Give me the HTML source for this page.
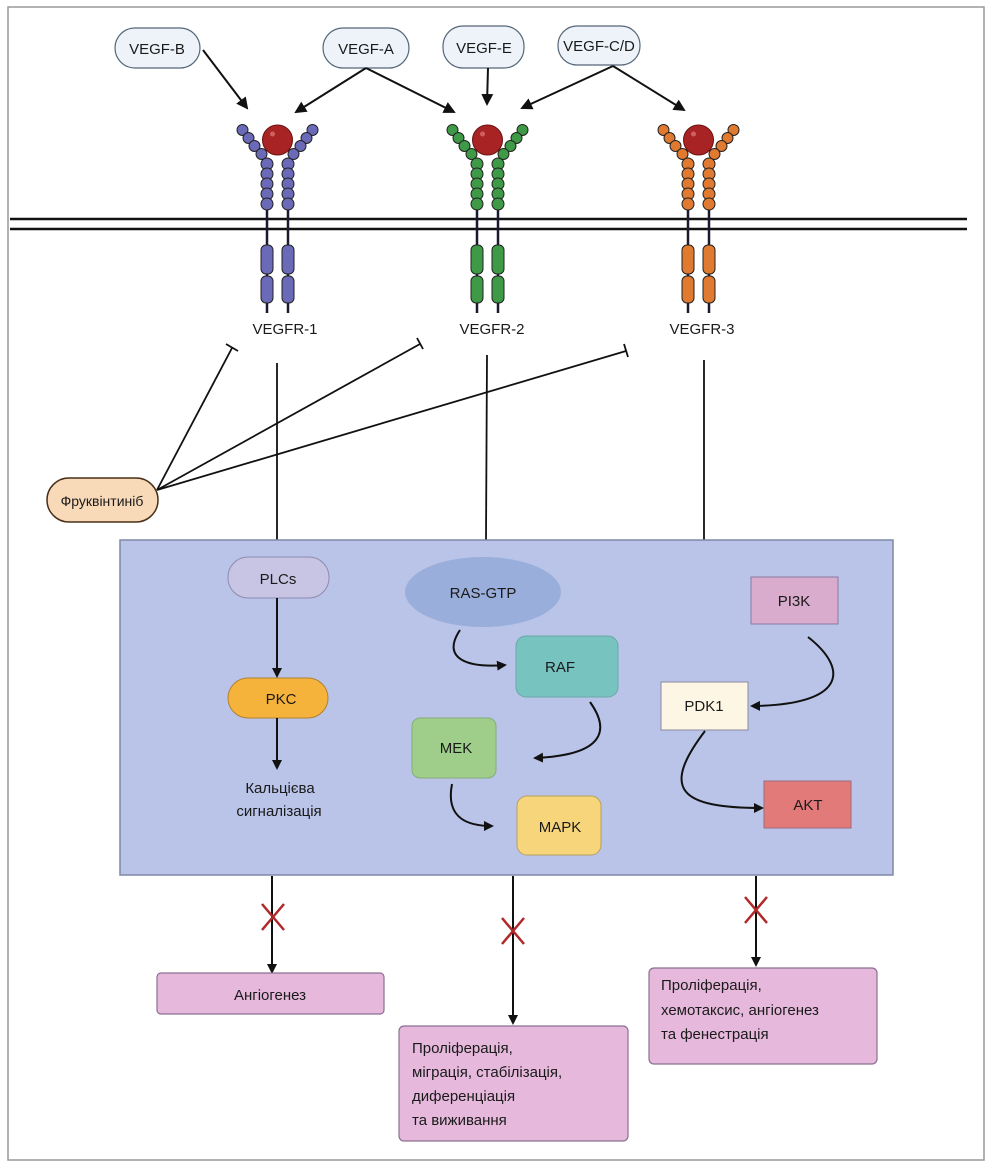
<!DOCTYPE html>
<html><head><meta charset="utf-8"><style>
html,body{margin:0;padding:0;background:#fff}
svg{display:block}
text{font-family:"Liberation Sans","DejaVu Sans",sans-serif;fill:#1a1a1a}
</style></head><body>
<svg width="989" height="1168" viewBox="0 0 989 1168" xmlns="http://www.w3.org/2000/svg">
<defs>
<marker id="ah" markerWidth="10" markerHeight="10" refX="8" refY="5" orient="auto" markerUnits="userSpaceOnUse">
<path d="M0,0 L10,5 L0,10 Z" fill="#111"/></marker>
<marker id="ahs" markerWidth="12" markerHeight="12" refX="10" refY="6" orient="auto" markerUnits="userSpaceOnUse">
<path d="M0,0 L12,6 L0,12 Z" fill="#111"/></marker>
<g id="rec" stroke="#222" stroke-width="1">
<line x1="-10.5" y1="160" x2="-10.5" y2="313" stroke="#1a1a2e" stroke-width="2.5"/>
<line x1="10.5" y1="160" x2="10.5" y2="313" stroke="#1a1a2e" stroke-width="2.5"/>
<circle cx="-35" cy="130" r="5.5"/><circle cx="-29" cy="138" r="5.5"/><circle cx="-23" cy="146" r="5.5"/><circle cx="-16" cy="154" r="5.5"/>
<circle cx="35" cy="130" r="5.5"/><circle cx="29" cy="138" r="5.5"/><circle cx="23" cy="146" r="5.5"/><circle cx="16" cy="154" r="5.5"/>
<circle cx="-10.5" cy="164" r="6"/><circle cx="-10.5" cy="174" r="6"/><circle cx="-10.5" cy="184" r="6"/><circle cx="-10.5" cy="194" r="6"/><circle cx="-10.5" cy="204" r="6"/>
<circle cx="10.5" cy="164" r="6"/><circle cx="10.5" cy="174" r="6"/><circle cx="10.5" cy="184" r="6"/><circle cx="10.5" cy="194" r="6"/><circle cx="10.5" cy="204" r="6"/>
<rect x="-16.5" y="245" width="12" height="29" rx="5"/><rect x="4.5" y="245" width="12" height="29" rx="5"/>
<rect x="-16.5" y="276" width="12" height="27" rx="5"/><rect x="4.5" y="276" width="12" height="27" rx="5"/>
<circle cx="0" cy="140" r="15" fill="#a82424" stroke="#6a1010"/>
<circle cx="-5" cy="134" r="2.5" fill="#d06060" stroke="none"/>
</g>
</defs>
<rect x="8" y="7" width="976" height="1153" fill="#fff" stroke="#999" stroke-width="1.5"/>
<!-- membrane -->
<line x1="10" y1="219" x2="967" y2="219" stroke="#111" stroke-width="2.5"/>
<line x1="10" y1="229" x2="967" y2="229" stroke="#111" stroke-width="2.5"/>
<use href="#rec" x="277.5" fill="#6a6ab8"/>
<use href="#rec" x="487.5" fill="#3f9a48"/>
<use href="#rec" x="698.5" fill="#e07a30"/>
<text x="285" y="334" font-size="15" text-anchor="middle">VEGFR-1</text>
<text x="492" y="334" font-size="15" text-anchor="middle">VEGFR-2</text>
<text x="702" y="334" font-size="15" text-anchor="middle">VEGFR-3</text>
<!-- ligands -->
<g fill="#eef3fa" stroke="#556677" stroke-width="1.2">
<rect x="115" y="28" width="85" height="40" rx="20"/>
<rect x="323" y="28" width="86" height="40" rx="20"/>
<rect x="443" y="26" width="81" height="42" rx="20"/>
<rect x="558" y="26" width="82" height="39" rx="19"/>
</g>
<text x="157" y="54" font-size="15" text-anchor="middle">VEGF-B</text>
<text x="366" y="54" font-size="15" text-anchor="middle">VEGF-A</text>
<text x="484" y="53" font-size="15" text-anchor="middle">VEGF-E</text>
<text x="599" y="51" font-size="15" text-anchor="middle">VEGF-C/D</text>
<g stroke="#111" stroke-width="2" fill="none">
<line x1="203" y1="50" x2="247" y2="108" marker-end="url(#ahs)"/>
<line x1="366" y1="68" x2="296" y2="112" marker-end="url(#ahs)"/>
<line x1="366" y1="68" x2="454" y2="112" marker-end="url(#ahs)"/>
<line x1="488" y1="68" x2="487" y2="104" marker-end="url(#ahs)"/>
<line x1="613" y1="66" x2="522" y2="108" marker-end="url(#ahs)"/>
<line x1="613" y1="66" x2="684" y2="110" marker-end="url(#ahs)"/>
</g>
<!-- fruquintinib -->
<g stroke="#111" stroke-width="1.8" fill="none">
<line x1="157" y1="490" x2="232" y2="348"/><line x1="226" y1="344" x2="238" y2="351"/>
<line x1="157" y1="490" x2="420" y2="344"/><line x1="417" y1="338" x2="423" y2="349"/>
<line x1="157" y1="490" x2="626" y2="351"/><line x1="624" y1="344" x2="628" y2="357"/>
<line x1="277" y1="363" x2="277" y2="540"/>
<line x1="487" y1="355" x2="486" y2="540"/>
<line x1="704" y1="360" x2="704" y2="540"/>
</g>
<rect x="47" y="478" width="111" height="44" rx="22" fill="#f8d9b8" stroke="#4a3018" stroke-width="1.5"/>
<text x="102" y="506" font-size="14" text-anchor="middle">Фруквінтиніб</text>
<!-- cell box -->
<rect x="120" y="540" width="773" height="335" fill="#b9c4e8" stroke="#7f88a8" stroke-width="1.5"/>
<rect x="228" y="557" width="101" height="41" rx="20" fill="#c8c4e4" stroke="#8e8ab0"/>
<text x="278" y="584" font-size="15" text-anchor="middle">PLCs</text>
<rect x="228" y="678" width="100" height="40" rx="20" fill="#f6b33c" stroke="#b08030"/>
<text x="281" y="704" font-size="15" text-anchor="middle">PKC</text>
<g stroke="#111" stroke-width="2" fill="none">
<line x1="277" y1="598" x2="277" y2="676" marker-end="url(#ah)"/>
<line x1="277" y1="718" x2="277" y2="768" marker-end="url(#ah)"/>
</g>
<text x="280" y="793" font-size="15" text-anchor="middle">Кальцієва</text>
<text x="279" y="816" font-size="15" text-anchor="middle">сигналізація</text>
<ellipse cx="483" cy="592" rx="78" ry="35" fill="#9aaedb"/>
<text x="483" y="598" font-size="15" text-anchor="middle">RAS-GTP</text>
<rect x="516" y="636" width="102" height="61" rx="10" fill="#76c3bf" stroke="#6aa8a8"/>
<text x="560" y="672" font-size="15" text-anchor="middle">RAF</text>
<rect x="412" y="718" width="84" height="60" rx="8" fill="#9fce8a" stroke="#84ad76"/>
<text x="456" y="753" font-size="15" text-anchor="middle">MEK</text>
<rect x="517" y="796" width="84" height="59" rx="10" fill="#f7d57a" stroke="#b8a060"/>
<text x="560" y="832" font-size="15" text-anchor="middle">MAPK</text>
<rect x="751" y="577" width="87" height="47" fill="#d9abcc" stroke="#8b7aa0"/>
<text x="794" y="606" font-size="15" text-anchor="middle">PI3K</text>
<rect x="661" y="682" width="87" height="48" fill="#fdf6e4" stroke="#8a8aa0"/>
<text x="704" y="711" font-size="15" text-anchor="middle">PDK1</text>
<rect x="764" y="781" width="87" height="47" fill="#e27a7a" stroke="#a06a7a"/>
<text x="808" y="810" font-size="15" text-anchor="middle">AKT</text>
<g stroke="#111" stroke-width="2" fill="none">
<path d="M460,630 C440,660 470,668 505,665" marker-end="url(#ah)"/>
<path d="M590,702 C610,730 605,755 535,758" marker-end="url(#ah)"/>
<path d="M452,784 C445,820 470,826 492,826" marker-end="url(#ah)"/>
<path d="M808,637 C850,670 845,705 752,706" marker-end="url(#ah)"/>
<path d="M705,731 C660,790 680,808 762,808" marker-end="url(#ah)"/>
<line x1="272" y1="876" x2="272" y2="972" marker-end="url(#ah)"/>
<line x1="513" y1="876" x2="513" y2="1023" marker-end="url(#ah)"/>
<line x1="756" y1="876" x2="756" y2="965" marker-end="url(#ah)"/>
</g>
<g stroke="#b02828" stroke-width="2.5">
<line x1="262" y1="904" x2="284" y2="930"/><line x1="284" y1="904" x2="262" y2="930"/>
<line x1="502" y1="918" x2="524" y2="944"/><line x1="524" y1="918" x2="502" y2="944"/>
<line x1="745" y1="897" x2="767" y2="923"/><line x1="767" y1="897" x2="745" y2="923"/>
</g>
<g fill="#e6b9dc" stroke="#8a7090" stroke-width="1.2">
<rect x="157" y="973" width="227" height="41" rx="4"/>
<rect x="399" y="1026" width="229" height="115" rx="5"/>
<rect x="649" y="968" width="228" height="96" rx="5"/>
</g>
<text x="270" y="1000" font-size="15" text-anchor="middle">Ангіогенез</text>
<g font-size="15">
<text x="412" y="1053">Проліферація,</text>
<text x="412" y="1077">міграція, стабілізація,</text>
<text x="412" y="1101">диференціація</text>
<text x="412" y="1125">та виживання</text>
<text x="661" y="990">Проліферація,</text>
<text x="661" y="1015">хемотаксис, ангіогенез</text>
<text x="661" y="1039">та фенестрація</text>
</g>
</svg>
</body></html>
